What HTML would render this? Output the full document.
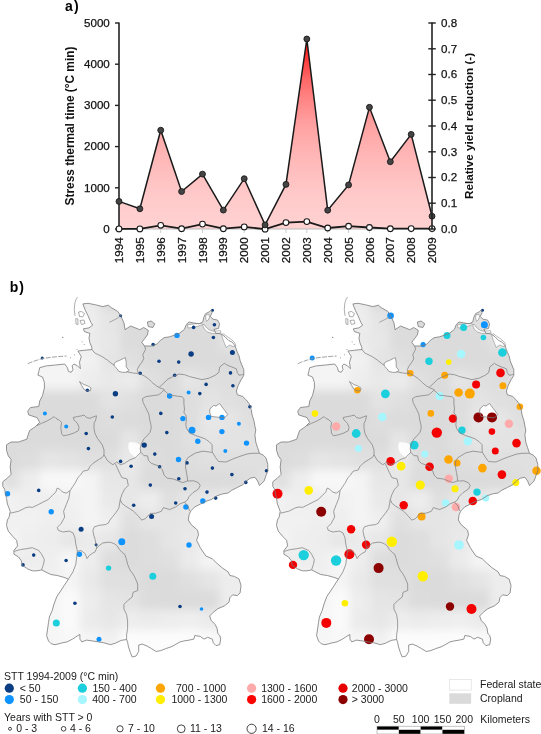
<!DOCTYPE html><html><head><meta charset="utf-8"><style>html,body{margin:0;padding:0;background:#fff;width:541px;height:734px;overflow:hidden}svg{display:block;will-change:transform}text{font-family:"Liberation Sans", sans-serif}</style></head><body>
<svg width="541" height="734" viewBox="0 0 541 734">
<defs>
<linearGradient id="rg" gradientUnits="userSpaceOnUse" x1="0" y1="39" x2="0" y2="229"><stop offset="0" stop-color="#ff0000"/><stop offset="0.05" stop-color="#ff1f1f"/><stop offset="0.1" stop-color="#ff3939"/><stop offset="0.2" stop-color="#ff6363"/><stop offset="0.3" stop-color="#ff8181"/><stop offset="0.45" stop-color="#ffa1a1"/><stop offset="0.6" stop-color="#ffb5b5"/><stop offset="0.8" stop-color="#ffc8c8"/><stop offset="1.0" stop-color="#ffd2d2"/></linearGradient>
<clipPath id="de"><path d="M82.9,303.9 L88.1,303.3 L95.5,304.8 L102.8,306.6 L108.4,305.2 L111.2,307.6 L117.6,311.3 L120.4,315.0 L124.1,323.3 L125.0,329.7 L130.6,326.0 L139.8,329.7 L143.7,327.5 L148.3,330.3 L147.4,334.9 L144.6,338.6 L141.8,342.3 L144.6,346.0 L151.1,346.0 L156.6,344.2 L160.3,340.5 L164.0,337.7 L169.6,336.8 L175.1,334.9 L179.7,333.1 L184.4,329.4 L186.2,324.7 L189.0,322.0 L193.6,322.9 L199.1,323.8 L202.8,322.0 L203.8,317.3 L205.6,313.7 L209.3,311.8 L211.2,310.0 L212.1,312.7 L210.2,316.4 L213.0,319.2 L217.6,320.1 L219.5,323.8 L218.6,328.4 L213.9,329.4 L215.8,333.1 L221.3,334.0 L225.0,336.8 L228.7,340.5 L232.4,342.3 L235.2,346.0 L236.1,348.8 L237.3,352.2 L239.1,355.9 L240.1,360.5 L241.9,365.1 L243.8,369.7 L243.8,375.3 L241.0,379.9 L238.2,385.5 L236.4,391.0 L237.3,394.7 L242.8,396.5 L246.5,400.2 L249.3,403.9 L251.2,409.5 L252.1,415.0 L253.9,420.6 L254.9,426.1 L255.8,430.0 L254.9,434.8 L255.8,442.2 L257.6,447.7 L259.5,453.3 L263.2,455.1 L266.0,457.9 L267.8,464.4 L267.8,470.8 L266.0,475.5 L264.1,481.0 L259.5,485.6 L257.6,481.0 L254.9,477.3 L250.2,478.2 L246.5,481.0 L242.8,484.7 L237.3,487.5 L231.8,490.2 L228.1,493.0 L222.5,493.9 L217.0,495.8 L211.4,499.5 L205.9,501.3 L200.3,504.1 L194.8,506.9 L191.1,510.6 L189.2,514.3 L188.3,520.0 L191.1,524.6 L197.6,530.2 L198.5,534.8 L196.6,540.3 L200.3,547.7 L205.9,556.0 L212.3,558.8 L217.0,563.4 L222.5,568.1 L228.1,571.8 L229.9,575.5 L234.5,576.4 L239.1,579.1 L241.0,585.5 L240.1,592.9 L237.3,595.7 L232.7,594.8 L229.9,597.6 L229.0,602.2 L224.4,605.9 L217.9,608.7 L213.3,612.3 L209.6,616.0 L211.4,620.7 L215.1,624.4 L217.0,628.1 L217.9,633.6 L219.7,635.5 L220.7,639.1 L219.7,644.7 L216.0,645.6 L213.3,642.8 L212.3,639.1 L207.7,637.3 L204.0,639.1 L200.3,636.4 L194.8,635.5 L193.9,639.1 L189.2,640.1 L183.7,641.0 L180.0,641.9 L174.7,645.0 L171.0,646.9 L165.5,648.7 L160.8,650.6 L156.2,651.5 L151.6,648.7 L147.0,646.0 L142.3,644.1 L138.7,645.0 L138.7,651.5 L135.9,656.1 L132.2,657.0 L130.3,652.4 L128.5,646.9 L127.6,642.3 L126.6,639.5 L121.1,640.4 L115.5,643.2 L110.4,644.7 L103.9,642.8 L98.4,641.9 L92.8,641.0 L86.4,640.1 L81.8,641.9 L79.9,639.1 L79.9,634.5 L78.1,635.5 L75.3,637.3 L72.5,639.1 L67.0,641.9 L62.3,642.8 L58.7,643.8 L55.0,644.7 L51.3,643.8 L48.5,641.0 L46.6,635.5 L47.6,629.0 L48.5,622.5 L49.4,617.0 L52.2,610.5 L54.0,604.0 L56.8,596.6 L60.5,591.1 L64.2,585.5 L68.4,579.1 L63.8,577.3 L57.3,575.5 L50.8,574.5 L47.1,572.7 L41.6,569.9 L37.0,570.8 L32.3,570.8 L27.7,569.0 L25.0,567.1 L22.2,565.3 L21.3,560.7 L18.5,557.0 L13.9,554.2 L13.9,550.5 L17.6,545.9 L16.6,540.3 L12.9,536.6 L8.3,531.1 L6.5,525.5 L7.4,520.0 L9.2,516.9 L10.2,511.3 L7.4,503.9 L6.5,498.4 L5.5,493.8 L4.6,489.1 L2.8,486.4 L2.8,481.8 L7.4,478.1 L11.1,474.4 L10.2,467.0 L11.1,459.6 L8.3,455.9 L6.5,450.3 L6.5,444.8 L11.1,442.0 L18.5,442.0 L26.8,439.2 L27.7,436.1 L29.6,430.6 L35.1,426.9 L39.7,422.3 L37.0,417.6 L28.7,414.9 L27.7,411.2 L30.5,407.5 L38.8,406.5 L39.7,401.0 L42.5,395.5 L44.4,388.0 L44.4,382.5 L42.5,377.0 L37.9,375.1 L38.8,371.4 L39.7,367.7 L46.2,365.9 L55.5,365.0 L64.7,364.0 L67.5,367.7 L68.4,371.4 L71.2,372.3 L73.0,369.6 L72.1,365.9 L73.9,364.0 L77.6,365.9 L80.4,368.7 L79.5,362.2 L81.3,356.6 L79.7,353.8 L77.9,351.0 L85.0,350.2 L92.0,349.5 L91.8,347.3 L89.9,342.7 L89.0,338.0 L89.9,333.4 L84.4,331.6 L83.4,328.8 L89.0,327.9 L92.7,325.1 L90.8,322.3 L88.1,315.9 L85.3,310.3 Z M147.4,322 L151.1,321 L154.8,323.8 L152.9,327.5 L148.3,326.6 Z"/></clipPath>
<filter id="bl" x="-20" y="270" width="320" height="420" filterUnits="userSpaceOnUse"><feGaussianBlur stdDeviation="5"/></filter><filter id="bl2"><feGaussianBlur stdDeviation="0.6"/></filter>
<g id="mbase"><g clip-path="url(#de)"><g filter="url(#bl)"><rect x="0" y="290" width="20" height="20" fill="#ebebeb"/><rect x="20" y="290" width="20" height="20" fill="#ebebeb"/><rect x="40" y="290" width="20" height="20" fill="#ebebeb"/><rect x="60" y="290" width="20" height="20" fill="#ebebeb"/><rect x="80" y="290" width="20" height="20" fill="#ebebeb"/><rect x="100" y="290" width="20" height="20" fill="#dbdbdb"/><rect x="120" y="290" width="20" height="20" fill="#dbdbdb"/><rect x="140" y="290" width="20" height="20" fill="#dbdbdb"/><rect x="160" y="290" width="20" height="20" fill="#dbdbdb"/><rect x="180" y="290" width="20" height="20" fill="#dbdbdb"/><rect x="200" y="290" width="20" height="20" fill="#e0e0e0"/><rect x="220" y="290" width="20" height="20" fill="#e5e5e5"/><rect x="240" y="290" width="20" height="20" fill="#e5e5e5"/><rect x="260" y="290" width="20" height="20" fill="#e5e5e5"/><rect x="0" y="310" width="20" height="20" fill="#f3f3f3"/><rect x="20" y="310" width="20" height="20" fill="#f2f2f2"/><rect x="40" y="310" width="20" height="20" fill="#f0f0f0"/><rect x="60" y="310" width="20" height="20" fill="#ededed"/><rect x="80" y="310" width="20" height="20" fill="#ededed"/><rect x="100" y="310" width="20" height="20" fill="#e5e5e5"/><rect x="120" y="310" width="20" height="20" fill="#dbdbdb"/><rect x="140" y="310" width="20" height="20" fill="#dbdbdb"/><rect x="160" y="310" width="20" height="20" fill="#dbdbdb"/><rect x="180" y="310" width="20" height="20" fill="#dbdbdb"/><rect x="200" y="310" width="20" height="20" fill="#e0e0e0"/><rect x="220" y="310" width="20" height="20" fill="#e5e5e5"/><rect x="240" y="310" width="20" height="20" fill="#e5e5e5"/><rect x="260" y="310" width="20" height="20" fill="#e5e5e5"/><rect x="0" y="330" width="20" height="20" fill="#f4f4f4"/><rect x="20" y="330" width="20" height="20" fill="#f4f4f4"/><rect x="40" y="330" width="20" height="20" fill="#f4f4f4"/><rect x="60" y="330" width="20" height="20" fill="#efefef"/><rect x="80" y="330" width="20" height="20" fill="#ebebeb"/><rect x="100" y="330" width="20" height="20" fill="#e7e7e7"/><rect x="120" y="330" width="20" height="20" fill="#dcdcdc"/><rect x="140" y="330" width="20" height="20" fill="#dbdbdb"/><rect x="160" y="330" width="20" height="20" fill="#dbdbdb"/><rect x="180" y="330" width="20" height="20" fill="#dbdbdb"/><rect x="200" y="330" width="20" height="20" fill="#dbdbdb"/><rect x="220" y="330" width="20" height="20" fill="#e5e5e5"/><rect x="240" y="330" width="20" height="20" fill="#e5e5e5"/><rect x="260" y="330" width="20" height="20" fill="#e5e5e5"/><rect x="0" y="350" width="20" height="20" fill="#f4f4f4"/><rect x="20" y="350" width="20" height="20" fill="#f4f4f4"/><rect x="40" y="350" width="20" height="20" fill="#f4f4f4"/><rect x="60" y="350" width="20" height="20" fill="#f4f4f4"/><rect x="80" y="350" width="20" height="20" fill="#f1f1f1"/><rect x="100" y="350" width="20" height="20" fill="#e5e5e5"/><rect x="120" y="350" width="20" height="20" fill="#e0e0e0"/><rect x="140" y="350" width="20" height="20" fill="#dbdbdb"/><rect x="160" y="350" width="20" height="20" fill="#dbdbdb"/><rect x="180" y="350" width="20" height="20" fill="#dbdbdb"/><rect x="200" y="350" width="20" height="20" fill="#dbdbdb"/><rect x="220" y="350" width="20" height="20" fill="#dbdbdb"/><rect x="240" y="350" width="20" height="20" fill="#dcdcdc"/><rect x="260" y="350" width="20" height="20" fill="#dcdcdc"/><rect x="0" y="370" width="20" height="20" fill="#f4f4f4"/><rect x="20" y="370" width="20" height="20" fill="#f4f4f4"/><rect x="40" y="370" width="20" height="20" fill="#f4f4f4"/><rect x="60" y="370" width="20" height="20" fill="#f4f4f4"/><rect x="80" y="370" width="20" height="20" fill="#ededed"/><rect x="100" y="370" width="20" height="20" fill="#e9e9e9"/><rect x="120" y="370" width="20" height="20" fill="#ebebeb"/><rect x="140" y="370" width="20" height="20" fill="#e0e0e0"/><rect x="160" y="370" width="20" height="20" fill="#dbdbdb"/><rect x="180" y="370" width="20" height="20" fill="#e5e5e5"/><rect x="200" y="370" width="20" height="20" fill="#e0e0e0"/><rect x="220" y="370" width="20" height="20" fill="#dedede"/><rect x="240" y="370" width="20" height="20" fill="#e0e0e0"/><rect x="260" y="370" width="20" height="20" fill="#e0e0e0"/><rect x="0" y="390" width="20" height="20" fill="#dcdcdc"/><rect x="20" y="390" width="20" height="20" fill="#dcdcdc"/><rect x="40" y="390" width="20" height="20" fill="#dbdbdb"/><rect x="60" y="390" width="20" height="20" fill="#dbdbdb"/><rect x="80" y="390" width="20" height="20" fill="#dbdbdb"/><rect x="100" y="390" width="20" height="20" fill="#e3e3e3"/><rect x="120" y="390" width="20" height="20" fill="#e0e0e0"/><rect x="140" y="390" width="20" height="20" fill="#dbdbdb"/><rect x="160" y="390" width="20" height="20" fill="#dbdbdb"/><rect x="180" y="390" width="20" height="20" fill="#dedede"/><rect x="200" y="390" width="20" height="20" fill="#e3e3e3"/><rect x="220" y="390" width="20" height="20" fill="#e0e0e0"/><rect x="240" y="390" width="20" height="20" fill="#dedede"/><rect x="260" y="390" width="20" height="20" fill="#dedede"/><rect x="0" y="410" width="20" height="20" fill="#dbdbdb"/><rect x="20" y="410" width="20" height="20" fill="#dbdbdb"/><rect x="40" y="410" width="20" height="20" fill="#dbdbdb"/><rect x="60" y="410" width="20" height="20" fill="#dbdbdb"/><rect x="80" y="410" width="20" height="20" fill="#dbdbdb"/><rect x="100" y="410" width="20" height="20" fill="#dedede"/><rect x="120" y="410" width="20" height="20" fill="#dcdcdc"/><rect x="140" y="410" width="20" height="20" fill="#dbdbdb"/><rect x="160" y="410" width="20" height="20" fill="#dbdbdb"/><rect x="180" y="410" width="20" height="20" fill="#dedede"/><rect x="200" y="410" width="20" height="20" fill="#e7e7e7"/><rect x="220" y="410" width="20" height="20" fill="#e5e5e5"/><rect x="240" y="410" width="20" height="20" fill="#e0e0e0"/><rect x="260" y="410" width="20" height="20" fill="#e0e0e0"/><rect x="0" y="430" width="20" height="20" fill="#dcdcdc"/><rect x="20" y="430" width="20" height="20" fill="#dbdbdb"/><rect x="40" y="430" width="20" height="20" fill="#dbdbdb"/><rect x="60" y="430" width="20" height="20" fill="#dbdbdb"/><rect x="80" y="430" width="20" height="20" fill="#dbdbdb"/><rect x="100" y="430" width="20" height="20" fill="#dbdbdb"/><rect x="120" y="430" width="20" height="20" fill="#e5e5e5"/><rect x="140" y="430" width="20" height="20" fill="#dbdbdb"/><rect x="160" y="430" width="20" height="20" fill="#dbdbdb"/><rect x="180" y="430" width="20" height="20" fill="#e0e0e0"/><rect x="200" y="430" width="20" height="20" fill="#e5e5e5"/><rect x="220" y="430" width="20" height="20" fill="#e3e3e3"/><rect x="240" y="430" width="20" height="20" fill="#e3e3e3"/><rect x="260" y="430" width="20" height="20" fill="#e2e2e2"/><rect x="0" y="450" width="20" height="20" fill="#dcdcdc"/><rect x="20" y="450" width="20" height="20" fill="#dedede"/><rect x="40" y="450" width="20" height="20" fill="#e5e5e5"/><rect x="60" y="450" width="20" height="20" fill="#e3e3e3"/><rect x="80" y="450" width="20" height="20" fill="#e0e0e0"/><rect x="100" y="450" width="20" height="20" fill="#e0e0e0"/><rect x="120" y="450" width="20" height="20" fill="#e9e9e9"/><rect x="140" y="450" width="20" height="20" fill="#dedede"/><rect x="160" y="450" width="20" height="20" fill="#dbdbdb"/><rect x="180" y="450" width="20" height="20" fill="#dedede"/><rect x="200" y="450" width="20" height="20" fill="#e0e0e0"/><rect x="220" y="450" width="20" height="20" fill="#e0e0e0"/><rect x="240" y="450" width="20" height="20" fill="#e0e0e0"/><rect x="260" y="450" width="20" height="20" fill="#e0e0e0"/><rect x="0" y="470" width="20" height="20" fill="#e0e0e0"/><rect x="20" y="470" width="20" height="20" fill="#ededed"/><rect x="40" y="470" width="20" height="20" fill="#f8f8f8"/><rect x="60" y="470" width="20" height="20" fill="#f8f8f8"/><rect x="80" y="470" width="20" height="20" fill="#f4f4f4"/><rect x="100" y="470" width="20" height="20" fill="#e7e7e7"/><rect x="120" y="470" width="20" height="20" fill="#e7e7e7"/><rect x="140" y="470" width="20" height="20" fill="#dcdcdc"/><rect x="160" y="470" width="20" height="20" fill="#dbdbdb"/><rect x="180" y="470" width="20" height="20" fill="#dbdbdb"/><rect x="200" y="470" width="20" height="20" fill="#dbdbdb"/><rect x="220" y="470" width="20" height="20" fill="#dcdcdc"/><rect x="240" y="470" width="20" height="20" fill="#dedede"/><rect x="260" y="470" width="20" height="20" fill="#e5e5e5"/><rect x="0" y="490" width="20" height="20" fill="#f1f1f1"/><rect x="20" y="490" width="20" height="20" fill="#efefef"/><rect x="40" y="490" width="20" height="20" fill="#efefef"/><rect x="60" y="490" width="20" height="20" fill="#f1f1f1"/><rect x="80" y="490" width="20" height="20" fill="#f4f4f4"/><rect x="100" y="490" width="20" height="20" fill="#e9e9e9"/><rect x="120" y="490" width="20" height="20" fill="#e7e7e7"/><rect x="140" y="490" width="20" height="20" fill="#ededed"/><rect x="160" y="490" width="20" height="20" fill="#e0e0e0"/><rect x="180" y="490" width="20" height="20" fill="#e6e6e6"/><rect x="200" y="490" width="20" height="20" fill="#e7e7e7"/><rect x="220" y="490" width="20" height="20" fill="#ebebeb"/><rect x="240" y="490" width="20" height="20" fill="#e5e5e5"/><rect x="260" y="490" width="20" height="20" fill="#e5e5e5"/><rect x="0" y="510" width="20" height="20" fill="#f1f1f1"/><rect x="20" y="510" width="20" height="20" fill="#f1f1f1"/><rect x="40" y="510" width="20" height="20" fill="#efefef"/><rect x="60" y="510" width="20" height="20" fill="#efefef"/><rect x="80" y="510" width="20" height="20" fill="#f4f4f4"/><rect x="100" y="510" width="20" height="20" fill="#efefef"/><rect x="120" y="510" width="20" height="20" fill="#e0e0e0"/><rect x="140" y="510" width="20" height="20" fill="#e5e5e5"/><rect x="160" y="510" width="20" height="20" fill="#e5e5e5"/><rect x="180" y="510" width="20" height="20" fill="#e7e7e7"/><rect x="200" y="510" width="20" height="20" fill="#e9e9e9"/><rect x="220" y="510" width="20" height="20" fill="#eaeaea"/><rect x="240" y="510" width="20" height="20" fill="#e7e7e7"/><rect x="260" y="510" width="20" height="20" fill="#e5e5e5"/><rect x="0" y="530" width="20" height="20" fill="#f4f4f4"/><rect x="20" y="530" width="20" height="20" fill="#efefef"/><rect x="40" y="530" width="20" height="20" fill="#ededed"/><rect x="60" y="530" width="20" height="20" fill="#e7e7e7"/><rect x="80" y="530" width="20" height="20" fill="#ebebeb"/><rect x="100" y="530" width="20" height="20" fill="#e7e7e7"/><rect x="120" y="530" width="20" height="20" fill="#dcdcdc"/><rect x="140" y="530" width="20" height="20" fill="#dedede"/><rect x="160" y="530" width="20" height="20" fill="#e5e5e5"/><rect x="180" y="530" width="20" height="20" fill="#e9e9e9"/><rect x="200" y="530" width="20" height="20" fill="#f1f1f1"/><rect x="220" y="530" width="20" height="20" fill="#f4f4f4"/><rect x="240" y="530" width="20" height="20" fill="#f5f5f5"/><rect x="260" y="530" width="20" height="20" fill="#f0f0f0"/><rect x="0" y="550" width="20" height="20" fill="#ededed"/><rect x="20" y="550" width="20" height="20" fill="#ededed"/><rect x="40" y="550" width="20" height="20" fill="#efefef"/><rect x="60" y="550" width="20" height="20" fill="#f6f6f6"/><rect x="80" y="550" width="20" height="20" fill="#ededed"/><rect x="100" y="550" width="20" height="20" fill="#dedede"/><rect x="120" y="550" width="20" height="20" fill="#dcdcdc"/><rect x="140" y="550" width="20" height="20" fill="#dedede"/><rect x="160" y="550" width="20" height="20" fill="#e0e0e0"/><rect x="180" y="550" width="20" height="20" fill="#ebebeb"/><rect x="200" y="550" width="20" height="20" fill="#f4f4f4"/><rect x="220" y="550" width="20" height="20" fill="#f6f6f6"/><rect x="240" y="550" width="20" height="20" fill="#f6f6f6"/><rect x="260" y="550" width="20" height="20" fill="#f6f6f6"/><rect x="0" y="570" width="20" height="20" fill="#f1f1f1"/><rect x="20" y="570" width="20" height="20" fill="#f6f6f6"/><rect x="40" y="570" width="20" height="20" fill="#f1f1f1"/><rect x="60" y="570" width="20" height="20" fill="#f4f4f4"/><rect x="80" y="570" width="20" height="20" fill="#e9e9e9"/><rect x="100" y="570" width="20" height="20" fill="#e0e0e0"/><rect x="120" y="570" width="20" height="20" fill="#e0e0e0"/><rect x="140" y="570" width="20" height="20" fill="#dbdbdb"/><rect x="160" y="570" width="20" height="20" fill="#dbdbdb"/><rect x="180" y="570" width="20" height="20" fill="#e0e0e0"/><rect x="200" y="570" width="20" height="20" fill="#e5e5e5"/><rect x="220" y="570" width="20" height="20" fill="#ededed"/><rect x="240" y="570" width="20" height="20" fill="#ededed"/><rect x="260" y="570" width="20" height="20" fill="#ededed"/><rect x="0" y="590" width="20" height="20" fill="#f3f3f3"/><rect x="20" y="590" width="20" height="20" fill="#f5f5f5"/><rect x="40" y="590" width="20" height="20" fill="#f4f4f4"/><rect x="60" y="590" width="20" height="20" fill="#fafafa"/><rect x="80" y="590" width="20" height="20" fill="#ededed"/><rect x="100" y="590" width="20" height="20" fill="#e5e5e5"/><rect x="120" y="590" width="20" height="20" fill="#e3e3e3"/><rect x="140" y="590" width="20" height="20" fill="#dcdcdc"/><rect x="160" y="590" width="20" height="20" fill="#dbdbdb"/><rect x="180" y="590" width="20" height="20" fill="#dbdbdb"/><rect x="200" y="590" width="20" height="20" fill="#dcdcdc"/><rect x="220" y="590" width="20" height="20" fill="#ededed"/><rect x="240" y="590" width="20" height="20" fill="#ededed"/><rect x="260" y="590" width="20" height="20" fill="#ededed"/><rect x="0" y="610" width="20" height="20" fill="#f6f6f6"/><rect x="20" y="610" width="20" height="20" fill="#f6f6f6"/><rect x="40" y="610" width="20" height="20" fill="#f6f6f6"/><rect x="60" y="610" width="20" height="20" fill="#fafafa"/><rect x="80" y="610" width="20" height="20" fill="#ebebeb"/><rect x="100" y="610" width="20" height="20" fill="#e7e7e7"/><rect x="120" y="610" width="20" height="20" fill="#ededed"/><rect x="140" y="610" width="20" height="20" fill="#ebebeb"/><rect x="160" y="610" width="20" height="20" fill="#ededed"/><rect x="180" y="610" width="20" height="20" fill="#efefef"/><rect x="200" y="610" width="20" height="20" fill="#ebebeb"/><rect x="220" y="610" width="20" height="20" fill="#efefef"/><rect x="240" y="610" width="20" height="20" fill="#efefef"/><rect x="260" y="610" width="20" height="20" fill="#efefef"/><rect x="0" y="630" width="20" height="20" fill="#f6f6f6"/><rect x="20" y="630" width="20" height="20" fill="#f6f6f6"/><rect x="40" y="630" width="20" height="20" fill="#f6f6f6"/><rect x="60" y="630" width="20" height="20" fill="#f8f8f8"/><rect x="80" y="630" width="20" height="20" fill="#f4f4f4"/><rect x="100" y="630" width="20" height="20" fill="#f1f1f1"/><rect x="120" y="630" width="20" height="20" fill="#fcfcfc"/><rect x="140" y="630" width="20" height="20" fill="#fcfcfc"/><rect x="160" y="630" width="20" height="20" fill="#fcfcfc"/><rect x="180" y="630" width="20" height="20" fill="#fcfcfc"/><rect x="200" y="630" width="20" height="20" fill="#fafafa"/><rect x="220" y="630" width="20" height="20" fill="#f5f5f5"/><rect x="240" y="630" width="20" height="20" fill="#f2f2f2"/><rect x="260" y="630" width="20" height="20" fill="#f1f1f1"/><rect x="0" y="650" width="20" height="20" fill="#f6f6f6"/><rect x="20" y="650" width="20" height="20" fill="#f6f6f6"/><rect x="40" y="650" width="20" height="20" fill="#f6f6f6"/><rect x="60" y="650" width="20" height="20" fill="#f8f8f8"/><rect x="80" y="650" width="20" height="20" fill="#f4f4f4"/><rect x="100" y="650" width="20" height="20" fill="#f7f7f7"/><rect x="120" y="650" width="20" height="20" fill="#fdfdfd"/><rect x="140" y="650" width="20" height="20" fill="#fdfdfd"/><rect x="160" y="650" width="20" height="20" fill="#fdfdfd"/><rect x="180" y="650" width="20" height="20" fill="#fdfdfd"/><rect x="200" y="650" width="20" height="20" fill="#fbfbfb"/><rect x="220" y="650" width="20" height="20" fill="#f8f8f8"/><rect x="240" y="650" width="20" height="20" fill="#f5f5f5"/><rect x="260" y="650" width="20" height="20" fill="#f3f3f3"/></g></g><path d="M187.5,324.8 L192,324.2 L197,323.7 L201.5,323.4 L202.5,324.6 L198,326.2 L192,327.6 L188,328 Z" fill="#fff" stroke="#8a8a8a" stroke-width="0.6"/><path d="M203.8,324 L206,327 L209,329.8 L213,331.2 L217,331 L220.5,330.6 L221,332.8 L216.5,333.6 L212,333.4 L207.5,332 L204.2,329 L202.8,325.5 Z" fill="#fff" stroke="#8a8a8a" stroke-width="0.6"/><path d="M206,314.8 L208.8,314.3 L209.6,317 L208.3,320 L206.6,321.3 L205.6,318 Z" fill="#fff" stroke="#8a8a8a" stroke-width="0.6"/><path d="M221.5,334.6 L223.4,333.8 L226.6,336.2 L230.5,338.8 L234.2,342 L235.6,344.5 L235.3,346 L233.1,346.6 L229.9,345 L227.9,346.2 L226.2,347.6 L224.5,343.5 L222.8,339 Z" fill="#fff" stroke="#8a8a8a" stroke-width="0.6"/><path d="M114.2,363.1 L117.0,361.3 L119.7,360.3 L123.4,358.5 L125.3,357.6 L126.2,362.2 L126.2,366.8 L129.0,370.5 L126.2,372.3 L122.5,372.3 L118.8,371.4 L117.0,368.7 L114.2,365.9 Z" fill="#fff"/><path d="M210.0,408.7 L213.5,405.5 L216.0,406.0 L219.6,403.5 L221.4,406.1 L225.1,410.9 L227.7,414.6 L224.4,417.9 L217.7,417.2 L211.1,416.4 L209.6,412.0 Z" fill="#fff"/><path d="M79.5,381.6 L83.7,384.4 L88.3,386.2 L91.1,388.1 L90.2,390.8 L86.5,390.8 L83.7,389.0 Z" fill="#fff"/><path d="M129.8,442.0 L136.0,442.7 L140.2,444.8 L140.9,448.3 L139.5,453.8 L137.4,457.3 L134.0,456.6 L129.8,452.4 L128.4,448.3 L128.4,444.1 Z" fill="#fff" opacity="0.92" filter="url(#bl2)"/></g>
<g id="mline"><path d="M82.9,303.9 L88.1,303.3 L95.5,304.8 L102.8,306.6 L108.4,305.2 L111.2,307.6 L117.6,311.3 L120.4,315.0 L124.1,323.3 L125.0,329.7 L130.6,326.0 L139.8,329.7 L143.7,327.5 L148.3,330.3 L147.4,334.9 L144.6,338.6 L141.8,342.3 L144.6,346.0 L151.1,346.0 L156.6,344.2 L160.3,340.5 L164.0,337.7 L169.6,336.8 L175.1,334.9 L179.7,333.1 L184.4,329.4 L186.2,324.7 L189.0,322.0 L193.6,322.9 L199.1,323.8 L202.8,322.0 L203.8,317.3 L205.6,313.7 L209.3,311.8 L211.2,310.0 L212.1,312.7 L210.2,316.4 L213.0,319.2 L217.6,320.1 L219.5,323.8 L218.6,328.4 L213.9,329.4 L215.8,333.1 L221.3,334.0 L225.0,336.8 L228.7,340.5 L232.4,342.3 L235.2,346.0 L236.1,348.8 L237.3,352.2 L239.1,355.9 L240.1,360.5 L241.9,365.1 L243.8,369.7 L243.8,375.3 L241.0,379.9 L238.2,385.5 L236.4,391.0 L237.3,394.7 L242.8,396.5 L246.5,400.2 L249.3,403.9 L251.2,409.5 L252.1,415.0 L253.9,420.6 L254.9,426.1 L255.8,430.0 L254.9,434.8 L255.8,442.2 L257.6,447.7 L259.5,453.3 L263.2,455.1 L266.0,457.9 L267.8,464.4 L267.8,470.8 L266.0,475.5 L264.1,481.0 L259.5,485.6 L257.6,481.0 L254.9,477.3 L250.2,478.2 L246.5,481.0 L242.8,484.7 L237.3,487.5 L231.8,490.2 L228.1,493.0 L222.5,493.9 L217.0,495.8 L211.4,499.5 L205.9,501.3 L200.3,504.1 L194.8,506.9 L191.1,510.6 L189.2,514.3 L188.3,520.0 L191.1,524.6 L197.6,530.2 L198.5,534.8 L196.6,540.3 L200.3,547.7 L205.9,556.0 L212.3,558.8 L217.0,563.4 L222.5,568.1 L228.1,571.8 L229.9,575.5 L234.5,576.4 L239.1,579.1 L241.0,585.5 L240.1,592.9 L237.3,595.7 L232.7,594.8 L229.9,597.6 L229.0,602.2 L224.4,605.9 L217.9,608.7 L213.3,612.3 L209.6,616.0 L211.4,620.7 L215.1,624.4 L217.0,628.1 L217.9,633.6 L219.7,635.5 L220.7,639.1 L219.7,644.7 L216.0,645.6 L213.3,642.8 L212.3,639.1 L207.7,637.3 L204.0,639.1 L200.3,636.4 L194.8,635.5 L193.9,639.1 L189.2,640.1 L183.7,641.0 L180.0,641.9 L174.7,645.0 L171.0,646.9 L165.5,648.7 L160.8,650.6 L156.2,651.5 L151.6,648.7 L147.0,646.0 L142.3,644.1 L138.7,645.0 L138.7,651.5 L135.9,656.1 L132.2,657.0 L130.3,652.4 L128.5,646.9 L127.6,642.3 L126.6,639.5 L121.1,640.4 L115.5,643.2 L110.4,644.7 L103.9,642.8 L98.4,641.9 L92.8,641.0 L86.4,640.1 L81.8,641.9 L79.9,639.1 L79.9,634.5 L78.1,635.5 L75.3,637.3 L72.5,639.1 L67.0,641.9 L62.3,642.8 L58.7,643.8 L55.0,644.7 L51.3,643.8 L48.5,641.0 L46.6,635.5 L47.6,629.0 L48.5,622.5 L49.4,617.0 L52.2,610.5 L54.0,604.0 L56.8,596.6 L60.5,591.1 L64.2,585.5 L68.4,579.1 L63.8,577.3 L57.3,575.5 L50.8,574.5 L47.1,572.7 L41.6,569.9 L37.0,570.8 L32.3,570.8 L27.7,569.0 L25.0,567.1 L22.2,565.3 L21.3,560.7 L18.5,557.0 L13.9,554.2 L13.9,550.5 L17.6,545.9 L16.6,540.3 L12.9,536.6 L8.3,531.1 L6.5,525.5 L7.4,520.0 L9.2,516.9 L10.2,511.3 L7.4,503.9 L6.5,498.4 L5.5,493.8 L4.6,489.1 L2.8,486.4 L2.8,481.8 L7.4,478.1 L11.1,474.4 L10.2,467.0 L11.1,459.6 L8.3,455.9 L6.5,450.3 L6.5,444.8 L11.1,442.0 L18.5,442.0 L26.8,439.2 L27.7,436.1 L29.6,430.6 L35.1,426.9 L39.7,422.3 L37.0,417.6 L28.7,414.9 L27.7,411.2 L30.5,407.5 L38.8,406.5 L39.7,401.0 L42.5,395.5 L44.4,388.0 L44.4,382.5 L42.5,377.0 L37.9,375.1 L38.8,371.4 L39.7,367.7 L46.2,365.9 L55.5,365.0 L64.7,364.0 L67.5,367.7 L68.4,371.4 L71.2,372.3 L73.0,369.6 L72.1,365.9 L73.9,364.0 L77.6,365.9 L80.4,368.7 L79.5,362.2 L81.3,356.6 L79.7,353.8 L77.9,351.0 L85.0,350.2 L92.0,349.5 L91.8,347.3 L89.9,342.7 L89.0,338.0 L89.9,333.4 L84.4,331.6 L83.4,328.8 L89.0,327.9 L92.7,325.1 L90.8,322.3 L88.1,315.9 L85.3,310.3 Z M147.4,322 L151.1,321 L154.8,323.8 L152.9,327.5 L148.3,326.6 Z" fill="none" stroke="#7a7a7a" stroke-width="0.8"/><path d="M92.0,349.5 L94.8,353.0 L102.2,356.6 L107.7,360.3 L112.3,364.0 L114.2,365.0 M126.5,371.5 L129.0,372.3 L133.6,373.1 L137.9,373.4 L139.9,373.8 L144.4,376.0 L148.3,378.6 L152.2,382.5 L156.1,385.7 L159.3,387.6 L162.5,388.9 L164.5,389.6 M144.6,346.0 L145.6,349.2 L142.8,354.8 L143.8,358.5 L141.9,362.2 L139.1,365.9 L137.3,369.6 L138.5,373.4 M159.3,387.2 L163.8,383.1 L167.7,379.2 L171.6,377.3 L175.5,375.4 L179.3,374.1 L184.5,374.7 L189.7,376.6 L195.0,377.9 L202.0,379.6 L209.0,378.2 L215.1,375.3 L218.8,372.5 L219.7,367.0 L224.4,363.3 L227.1,365.1 L231.8,367.0 L236.4,368.8 L237.3,372.5 L239.1,375.3 L243.8,374.4 M163.8,390.2 L166.4,392.2 L169.6,395.4 L172.9,395.4 L176.8,396.1 L181.9,396.7 L183.9,398.6 L183.9,403.8 L184.5,409.0 L183.9,412.9 L185.8,414.8 L186.5,419.3 L185.8,424.5 L186.5,428.4 L189.5,432.8 L195.5,435.5 L201.0,437.3 L205.6,439.1 L209.3,441.9 L212.1,444.7 L212.1,450.2 L212.5,452.5 M163.8,390.2 L161.2,392.8 L158.6,394.8 L154.8,395.4 L149.6,396.1 L145.7,396.7 L142.5,398.6 L143.1,402.5 L145.1,406.4 L147.0,410.3 L148.9,414.2 L149.6,419.3 L150.9,424.5 L151.2,428.4 L150.0,432.3 L147.4,435.5 L143.9,438.8 L141.3,444.0 L140.2,448.5 L140.8,452.2 M140.8,452.2 L143.9,455.6 L147.6,455.9 L148.5,460.5 L151.3,463.3 L158.7,466.0 L162.3,469.7 L164.2,475.3 L167.0,478.1 L173.4,479.0 L178.1,480.8 L182.7,482.6 L187.5,481.0 M212.5,452.5 L210.2,452.1 L202.8,451.2 L195.5,453.0 L188.0,457.6 L185.5,461.4 L185.5,467.0 L186.4,472.5 L187.3,477.1 L187.5,481.0 M212.5,452.5 L215.5,457.5 L218.5,461.5 L226.0,462.0 L234.0,458.5 L241.0,456.0 L247.0,454.0 L252.0,453.3 L259.5,453.3 M187.5,481.0 L193.8,480.8 L198.4,482.7 L200.2,485.5 L198.4,489.1 L192.8,492.8 L189.1,496.5 L187.3,500.2 L184.5,502.1 L188.0,506.0 L189.5,511.0 M120.3,499.5 L121.8,503.1 L125.5,506.1 L129.1,508.3 L133.6,511.3 L138.0,515.7 L141.7,520.1 L145.4,518.7 L150.0,513.5 L155.9,513.2 L161.4,511.3 L163.3,507.6 L169.7,509.5 L176.2,506.7 L179.9,503.9 L184.5,502.1 M140.8,452.2 L135.5,457.7 L130.0,459.8 L124.5,463.4 L120.6,464.7 L116.7,462.1 L112.8,464.7 L107.6,460.8 L104.0,454.9 M115.5,464.0 L119.3,472.5 L121.9,477.6 L127.0,478.9 L128.3,485.4 L124.5,489.3 L121.9,494.5 L120.3,499.5 M36.6,425.8 L41.6,423.3 L47.4,420.8 L51.6,418.3 L54.1,416.6 L55.8,418.3 L59.1,420.0 L61.6,422.5 L60.8,427.4 L61.6,433.3 L63.3,435.8 L68.2,434.9 L73.2,433.3 L78.2,430.8 L79.1,427.4 L77.4,423.3 L74.1,420.0 L73.2,417.5 L77.4,416.6 L81.6,415.8 L84.0,415.0 L86.5,417.5 L89.9,418.3 L94.0,416.6 L96.5,415.8 L95.7,420.0 L94.0,423.3 L94.0,428.3 L94.9,433.3 L97.4,438.3 L99.9,441.6 L102.3,444.9 L104.0,449.9 L104.0,454.9 M104.0,454.9 L102.3,457.4 L98.2,459.9 L93.2,463.2 L89.9,466.5 L88.2,470.0 L83.1,471.2 L80.5,475.1 L77.9,477.6 L75.3,482.8 L72.7,486.7 L70.1,490.6 L66.2,493.2 L62.3,491.9 L59.8,489.3 L57.2,488.0 L55.9,491.9 L52.0,495.8 L48.1,499.6 L42.9,502.2 L37.8,504.8 L32.6,507.4 L29.0,507.0 L25.9,507.6 L18.5,511.3 L10.2,513.2 M70.1,490.6 L68.8,498.3 L66.2,504.8 L63.6,511.3 L64.7,517.0 L61.0,523.7 L57.3,527.4 L58.2,530.2 L62.8,532.0 L69.3,531.1 L73.0,532.9 L74.9,537.6 L75.8,544.0 L77.4,551.2 M77.4,551.2 L76.7,557.0 L75.8,564.4 L73.0,571.8 L68.4,579.1 M120.3,499.5 L118.8,508.3 L115.8,512.7 L112.9,516.4 L109.9,520.1 L108.4,523.1 L105.5,524.6 L99.6,525.3 L94.4,526.8 L92.9,530.5 L93.7,534.9 L95.1,539.4 L95.9,543.8 L96.6,548.2 L95.1,551.9 L92.2,553.4 L89.2,555.6 L87.0,558.6 L86.3,556.4 L84.8,553.4 L81.1,550.5 L77.4,551.2 M96.6,548.2 L99.6,545.3 L102.5,543.1 L107.0,542.3 L110.7,542.3 L114.4,543.8 L117.3,546.0 L119.5,549.7 L122.5,552.7 L124.7,554.2 L126.2,558.6 L127.7,564.5 L130.0,570.0 L133.0,574.0 L135.0,577.6 L137.7,584.0 L137.7,590.5 L133.1,592.3 L132.2,597.0 L127.6,600.7 L123.9,604.4 L123.9,609.0 L126.6,614.5 L127.6,621.0 L127.6,628.4 L126.6,634.9 L126.6,639.5 M13.9,551.4 L20.3,549.6 L26.8,548.7 L32.3,547.7 L38.8,550.5 L41.6,554.2 L44.4,559.7 L43.4,564.4 L41.6,569.9 M114.2,363.1 L117.0,361.3 L119.7,360.3 L123.4,358.5 L125.3,357.6 L126.2,362.2 L126.2,366.8 L129.0,370.5 L126.2,372.3 L122.5,372.3 L118.8,371.4 L117.0,368.7 L114.2,365.9 Z M210.0,408.7 L213.5,405.5 L216.0,406.0 L219.6,403.5 L221.4,406.1 L225.1,410.9 L227.7,414.6 L224.4,417.9 L217.7,417.2 L211.1,416.4 L209.6,412.0 Z M79.5,381.6 L83.7,384.4 L88.3,386.2 L91.1,388.1 L90.2,390.8 L86.5,390.8 L83.7,389.0 Z" fill="none" stroke="#808080" stroke-width="0.75" stroke-linejoin="round"/><path d="M77.5,297.2 L76,299.5 L74.9,302.9 L74.3,309.4 L75.1,315.9 M78.5,312 L81.5,311.5 L84.5,313.5 L83,316.8 L79.5,316.5 Z M75.8,318.5 L77.8,319 L78,324.5 L76,324 Z M80,320.5 L84,320 L85,323.5 L81.5,324.5 Z M109.3,322.3 L113,320.5 L117,318.5 L120.4,315.9" fill="none" stroke="#8a8a8a" stroke-width="0.7"/><path d="M27.8,363.8 L30.4,362.5 L36,360.5 L42,358.6 L51,357.3 L58,356.6 L66.6,356" fill="none" stroke="#8a8a8a" stroke-width="0.8" stroke-dasharray="5 1.3"/><g fill="#8a8a8a"><circle cx="62.7" cy="337.4" r="0.7"/><circle cx="82.1" cy="341.8" r="0.5"/><circle cx="84.2" cy="344.4" r="0.5"/><circle cx="77" cy="349.5" r="0.5"/><circle cx="74.4" cy="354.7" r="0.5"/><circle cx="70.5" cy="357.8" r="0.5"/></g></g>
</defs>
<text x="64.9" y="10.9" font-size="14" font-weight="bold" letter-spacing="1.2">a)</text>
<polygon points="119.00,229 119.00,201.40 139.87,208.80 160.74,130.20 181.61,191.50 202.48,174.10 223.35,210.10 244.22,178.70 265.09,224.90 285.96,184.40 306.83,39.00 327.70,210.20 348.57,184.90 369.44,107.30 390.31,161.70 411.18,134.40 432.05,216.20 432.05,229" fill="url(#rg)"/>
<line x1="119" y1="229" x2="432" y2="229" stroke="#bbb" stroke-width="1"/>
<line x1="119.00" y1="229" x2="119.00" y2="233" stroke="#ccc" stroke-width="1"/>
<line x1="139.87" y1="229" x2="139.87" y2="233" stroke="#ccc" stroke-width="1"/>
<line x1="160.74" y1="229" x2="160.74" y2="233" stroke="#ccc" stroke-width="1"/>
<line x1="181.61" y1="229" x2="181.61" y2="233" stroke="#ccc" stroke-width="1"/>
<line x1="202.48" y1="229" x2="202.48" y2="233" stroke="#ccc" stroke-width="1"/>
<line x1="223.35" y1="229" x2="223.35" y2="233" stroke="#ccc" stroke-width="1"/>
<line x1="244.22" y1="229" x2="244.22" y2="233" stroke="#ccc" stroke-width="1"/>
<line x1="265.09" y1="229" x2="265.09" y2="233" stroke="#ccc" stroke-width="1"/>
<line x1="285.96" y1="229" x2="285.96" y2="233" stroke="#ccc" stroke-width="1"/>
<line x1="306.83" y1="229" x2="306.83" y2="233" stroke="#ccc" stroke-width="1"/>
<line x1="327.70" y1="229" x2="327.70" y2="233" stroke="#ccc" stroke-width="1"/>
<line x1="348.57" y1="229" x2="348.57" y2="233" stroke="#ccc" stroke-width="1"/>
<line x1="369.44" y1="229" x2="369.44" y2="233" stroke="#ccc" stroke-width="1"/>
<line x1="390.31" y1="229" x2="390.31" y2="233" stroke="#ccc" stroke-width="1"/>
<line x1="411.18" y1="229" x2="411.18" y2="233" stroke="#ccc" stroke-width="1"/>
<line x1="432.05" y1="229" x2="432.05" y2="233" stroke="#ccc" stroke-width="1"/>
<line x1="119" y1="22.5" x2="119" y2="229.5" stroke="#222" stroke-width="1.6"/>
<line x1="115" y1="229.0" x2="119" y2="229.0" stroke="#222" stroke-width="1.4"/>
<text x="109.8" y="232.7" font-size="11.6" text-anchor="end" fill="#111" stroke="#111" stroke-width="0.25">0</text>
<line x1="115" y1="187.8" x2="119" y2="187.8" stroke="#222" stroke-width="1.4"/>
<text x="109.8" y="191.5" font-size="11.6" text-anchor="end" fill="#111" stroke="#111" stroke-width="0.25">1000</text>
<line x1="115" y1="146.6" x2="119" y2="146.6" stroke="#222" stroke-width="1.4"/>
<text x="109.8" y="150.3" font-size="11.6" text-anchor="end" fill="#111" stroke="#111" stroke-width="0.25">2000</text>
<line x1="115" y1="105.4" x2="119" y2="105.4" stroke="#222" stroke-width="1.4"/>
<text x="109.8" y="109.1" font-size="11.6" text-anchor="end" fill="#111" stroke="#111" stroke-width="0.25">3000</text>
<line x1="115" y1="64.2" x2="119" y2="64.2" stroke="#222" stroke-width="1.4"/>
<text x="109.8" y="67.9" font-size="11.6" text-anchor="end" fill="#111" stroke="#111" stroke-width="0.25">4000</text>
<line x1="115" y1="23.0" x2="119" y2="23.0" stroke="#222" stroke-width="1.4"/>
<text x="109.8" y="26.7" font-size="11.6" text-anchor="end" fill="#111" stroke="#111" stroke-width="0.25">5000</text>
<text transform="translate(73.5,126) rotate(-90)" font-size="11.85" font-weight="bold" text-anchor="middle" fill="#111">Stress thermal time (°C min)</text>
<text transform="translate(472.8,126) rotate(-90)" font-size="11.7" font-weight="bold" text-anchor="middle" fill="#111">Relative yield reduction (-)</text>
<text transform="translate(123.10,237.3) rotate(-90)" font-size="11.7" text-anchor="end" fill="#111" stroke="#111" stroke-width="0.25">1994</text>
<text transform="translate(143.97,237.3) rotate(-90)" font-size="11.7" text-anchor="end" fill="#111" stroke="#111" stroke-width="0.25">1995</text>
<text transform="translate(164.84,237.3) rotate(-90)" font-size="11.7" text-anchor="end" fill="#111" stroke="#111" stroke-width="0.25">1996</text>
<text transform="translate(185.71,237.3) rotate(-90)" font-size="11.7" text-anchor="end" fill="#111" stroke="#111" stroke-width="0.25">1997</text>
<text transform="translate(206.58,237.3) rotate(-90)" font-size="11.7" text-anchor="end" fill="#111" stroke="#111" stroke-width="0.25">1998</text>
<text transform="translate(227.45,237.3) rotate(-90)" font-size="11.7" text-anchor="end" fill="#111" stroke="#111" stroke-width="0.25">1999</text>
<text transform="translate(248.32,237.3) rotate(-90)" font-size="11.7" text-anchor="end" fill="#111" stroke="#111" stroke-width="0.25">2000</text>
<text transform="translate(269.19,237.3) rotate(-90)" font-size="11.7" text-anchor="end" fill="#111" stroke="#111" stroke-width="0.25">2001</text>
<text transform="translate(290.06,237.3) rotate(-90)" font-size="11.7" text-anchor="end" fill="#111" stroke="#111" stroke-width="0.25">2002</text>
<text transform="translate(310.93,237.3) rotate(-90)" font-size="11.7" text-anchor="end" fill="#111" stroke="#111" stroke-width="0.25">2003</text>
<text transform="translate(331.80,237.3) rotate(-90)" font-size="11.7" text-anchor="end" fill="#111" stroke="#111" stroke-width="0.25">2004</text>
<text transform="translate(352.67,237.3) rotate(-90)" font-size="11.7" text-anchor="end" fill="#111" stroke="#111" stroke-width="0.25">2005</text>
<text transform="translate(373.54,237.3) rotate(-90)" font-size="11.7" text-anchor="end" fill="#111" stroke="#111" stroke-width="0.25">2006</text>
<text transform="translate(394.41,237.3) rotate(-90)" font-size="11.7" text-anchor="end" fill="#111" stroke="#111" stroke-width="0.25">2007</text>
<text transform="translate(415.28,237.3) rotate(-90)" font-size="11.7" text-anchor="end" fill="#111" stroke="#111" stroke-width="0.25">2008</text>
<text transform="translate(436.15,237.3) rotate(-90)" font-size="11.7" text-anchor="end" fill="#111" stroke="#111" stroke-width="0.25">2009</text>
<polyline points="119.00,228.90 139.87,228.90 160.74,225.30 181.61,228.70 202.48,224.10 223.35,228.70 244.22,226.90 265.09,229.20 285.96,222.60 306.83,221.60 327.70,228.00 348.57,226.20 369.44,227.50 390.31,228.70 411.18,228.60 432.05,228.60" fill="none" stroke="#1a1a1a" stroke-width="1.8"/>
<circle cx="119.00" cy="228.90" r="2.85" fill="#fff" stroke="#1a1a1a" stroke-width="1.1"/>
<circle cx="139.87" cy="228.90" r="2.85" fill="#fff" stroke="#1a1a1a" stroke-width="1.1"/>
<circle cx="160.74" cy="225.30" r="2.85" fill="#fff" stroke="#1a1a1a" stroke-width="1.1"/>
<circle cx="181.61" cy="228.70" r="2.85" fill="#fff" stroke="#1a1a1a" stroke-width="1.1"/>
<circle cx="202.48" cy="224.10" r="2.85" fill="#fff" stroke="#1a1a1a" stroke-width="1.1"/>
<circle cx="223.35" cy="228.70" r="2.85" fill="#fff" stroke="#1a1a1a" stroke-width="1.1"/>
<circle cx="244.22" cy="226.90" r="2.85" fill="#fff" stroke="#1a1a1a" stroke-width="1.1"/>
<circle cx="265.09" cy="229.20" r="2.85" fill="#fff" stroke="#1a1a1a" stroke-width="1.1"/>
<circle cx="285.96" cy="222.60" r="2.85" fill="#fff" stroke="#1a1a1a" stroke-width="1.1"/>
<circle cx="306.83" cy="221.60" r="2.85" fill="#fff" stroke="#1a1a1a" stroke-width="1.1"/>
<circle cx="327.70" cy="228.00" r="2.85" fill="#fff" stroke="#1a1a1a" stroke-width="1.1"/>
<circle cx="348.57" cy="226.20" r="2.85" fill="#fff" stroke="#1a1a1a" stroke-width="1.1"/>
<circle cx="369.44" cy="227.50" r="2.85" fill="#fff" stroke="#1a1a1a" stroke-width="1.1"/>
<circle cx="390.31" cy="228.70" r="2.85" fill="#fff" stroke="#1a1a1a" stroke-width="1.1"/>
<circle cx="411.18" cy="228.60" r="2.85" fill="#fff" stroke="#1a1a1a" stroke-width="1.1"/>
<circle cx="432.05" cy="228.60" r="2.85" fill="#fff" stroke="#1a1a1a" stroke-width="1.1"/>
<polyline points="119.00,201.40 139.87,208.80 160.74,130.20 181.61,191.50 202.48,174.10 223.35,210.10 244.22,178.70 265.09,224.90 285.96,184.40 306.83,39.00 327.70,210.20 348.57,184.90 369.44,107.30 390.31,161.70 411.18,134.40 432.05,216.20" fill="none" stroke="#1a1a1a" stroke-width="1.5"/>
<circle cx="119.00" cy="201.40" r="2.95" fill="#444" stroke="#1a1a1a" stroke-width="0.9"/>
<circle cx="139.87" cy="208.80" r="2.95" fill="#444" stroke="#1a1a1a" stroke-width="0.9"/>
<circle cx="160.74" cy="130.20" r="2.95" fill="#444" stroke="#1a1a1a" stroke-width="0.9"/>
<circle cx="181.61" cy="191.50" r="2.95" fill="#444" stroke="#1a1a1a" stroke-width="0.9"/>
<circle cx="202.48" cy="174.10" r="2.95" fill="#444" stroke="#1a1a1a" stroke-width="0.9"/>
<circle cx="223.35" cy="210.10" r="2.95" fill="#444" stroke="#1a1a1a" stroke-width="0.9"/>
<circle cx="244.22" cy="178.70" r="2.95" fill="#444" stroke="#1a1a1a" stroke-width="0.9"/>
<circle cx="265.09" cy="224.90" r="2.95" fill="#444" stroke="#1a1a1a" stroke-width="0.9"/>
<circle cx="285.96" cy="184.40" r="2.95" fill="#444" stroke="#1a1a1a" stroke-width="0.9"/>
<circle cx="306.83" cy="39.00" r="2.95" fill="#444" stroke="#1a1a1a" stroke-width="0.9"/>
<circle cx="327.70" cy="210.20" r="2.95" fill="#444" stroke="#1a1a1a" stroke-width="0.9"/>
<circle cx="348.57" cy="184.90" r="2.95" fill="#444" stroke="#1a1a1a" stroke-width="0.9"/>
<circle cx="369.44" cy="107.30" r="2.95" fill="#444" stroke="#1a1a1a" stroke-width="0.9"/>
<circle cx="390.31" cy="161.70" r="2.95" fill="#444" stroke="#1a1a1a" stroke-width="0.9"/>
<circle cx="411.18" cy="134.40" r="2.95" fill="#444" stroke="#1a1a1a" stroke-width="0.9"/>
<circle cx="432.05" cy="216.20" r="2.95" fill="#444" stroke="#1a1a1a" stroke-width="0.9"/>
<line x1="432" y1="22.5" x2="432" y2="229.5" stroke="#222" stroke-width="1.6"/>
<line x1="428.3" y1="229.0" x2="435.8" y2="229.0" stroke="#222" stroke-width="1.4"/>
<text x="441" y="232.8" font-size="11.6" fill="#111" stroke="#111" stroke-width="0.25">0.0</text>
<line x1="428.3" y1="203.2" x2="435.8" y2="203.2" stroke="#222" stroke-width="1.4"/>
<text x="441" y="207.1" font-size="11.6" fill="#111" stroke="#111" stroke-width="0.25">0.1</text>
<line x1="428.3" y1="177.5" x2="435.8" y2="177.5" stroke="#222" stroke-width="1.4"/>
<text x="441" y="181.3" font-size="11.6" fill="#111" stroke="#111" stroke-width="0.25">0.2</text>
<line x1="428.3" y1="151.8" x2="435.8" y2="151.8" stroke="#222" stroke-width="1.4"/>
<text x="441" y="155.6" font-size="11.6" fill="#111" stroke="#111" stroke-width="0.25">0.3</text>
<line x1="428.3" y1="126.0" x2="435.8" y2="126.0" stroke="#222" stroke-width="1.4"/>
<text x="441" y="129.8" font-size="11.6" fill="#111" stroke="#111" stroke-width="0.25">0.4</text>
<line x1="428.3" y1="100.2" x2="435.8" y2="100.2" stroke="#222" stroke-width="1.4"/>
<text x="441" y="104.0" font-size="11.6" fill="#111" stroke="#111" stroke-width="0.25">0.5</text>
<line x1="428.3" y1="74.5" x2="435.8" y2="74.5" stroke="#222" stroke-width="1.4"/>
<text x="441" y="78.3" font-size="11.6" fill="#111" stroke="#111" stroke-width="0.25">0.6</text>
<line x1="428.3" y1="48.8" x2="435.8" y2="48.8" stroke="#222" stroke-width="1.4"/>
<text x="441" y="52.5" font-size="11.6" fill="#111" stroke="#111" stroke-width="0.25">0.7</text>
<line x1="428.3" y1="23.0" x2="435.8" y2="23.0" stroke="#222" stroke-width="1.4"/>
<text x="441" y="26.8" font-size="11.6" fill="#111" stroke="#111" stroke-width="0.25">0.8</text>
<text x="9.8" y="292" font-size="14" font-weight="bold" letter-spacing="0.9">b)</text>
<use href="#mbase"/><use href="#mbase" x="270"/>
<circle cx="120.6" cy="315.8" r="1.5" fill="#0a3d82"/>
<circle cx="42.2" cy="358.1" r="1.5" fill="#0a3d82"/>
<circle cx="87.4" cy="390.2" r="1.8" fill="#0a3d82"/>
<circle cx="115.4" cy="393.8" r="2.7" fill="#0a3d82"/>
<circle cx="44.9" cy="413.6" r="2.0" fill="#0f93ff"/>
<circle cx="66.2" cy="426.5" r="2.0" fill="#0f93ff"/>
<circle cx="112.3" cy="417.0" r="1.8" fill="#0a3d82"/>
<circle cx="86.2" cy="433.5" r="1.8" fill="#0a3d82"/>
<circle cx="88.4" cy="448.6" r="1.8" fill="#0a3d82"/>
<circle cx="120.6" cy="461.4" r="1.8" fill="#0a3d82"/>
<circle cx="131.1" cy="466.2" r="1.8" fill="#0a3d82"/>
<circle cx="7.5" cy="493.7" r="2.7" fill="#0f93ff"/>
<circle cx="38.7" cy="490.4" r="1.8" fill="#0a3d82"/>
<circle cx="51.2" cy="511.7" r="2.7" fill="#0f93ff"/>
<circle cx="133.7" cy="505.2" r="1.8" fill="#0a3d82"/>
<circle cx="81.1" cy="529.2" r="2.5" fill="#0a3d82"/>
<circle cx="121.8" cy="541.7" r="3.5" fill="#0f93ff"/>
<circle cx="96.1" cy="544.7" r="1.5" fill="#0a3d82"/>
<circle cx="33.7" cy="555.1" r="1.8" fill="#0a3d82"/>
<circle cx="66.1" cy="560.5" r="1.8" fill="#0a3d82"/>
<circle cx="79.4" cy="554.3" r="2.7" fill="#0f93ff"/>
<circle cx="23.0" cy="564.9" r="1.8" fill="#0a3d82"/>
<circle cx="108.6" cy="568.1" r="2.7" fill="#1ccfdc"/>
<circle cx="74.9" cy="603.2" r="1.8" fill="#0a3d82"/>
<circle cx="56.3" cy="622.9" r="3.5" fill="#1ccfdc"/>
<circle cx="99.0" cy="639.2" r="2.5" fill="#0f93ff"/>
<circle cx="151.6" cy="516.6" r="2.5" fill="#0a3d82"/>
<circle cx="185.9" cy="507.0" r="2.7" fill="#0f93ff"/>
<circle cx="189.0" cy="545.0" r="2.7" fill="#0f93ff"/>
<circle cx="152.8" cy="576.3" r="3.5" fill="#1ccfdc"/>
<circle cx="180.0" cy="606.5" r="1.8" fill="#0a3d82"/>
<circle cx="201.5" cy="609.0" r="1.8" fill="#0f93ff"/>
<circle cx="212.5" cy="310.2" r="1.5" fill="#0a3d82"/>
<circle cx="214.4" cy="324.7" r="1.8" fill="#0a3d82"/>
<circle cx="193.6" cy="327.4" r="1.8" fill="#0a3d82"/>
<circle cx="177.0" cy="335.4" r="2.7" fill="#0f93ff"/>
<circle cx="153.1" cy="344.6" r="1.8" fill="#0a3d82"/>
<circle cx="213.4" cy="337.5" r="1.8" fill="#0a3d82"/>
<circle cx="232.4" cy="352.5" r="2.5" fill="#0a3d82"/>
<circle cx="191.1" cy="354.0" r="2.7" fill="#0a3d82"/>
<circle cx="159.0" cy="361.3" r="1.8" fill="#0a3d82"/>
<circle cx="178.7" cy="362.1" r="1.8" fill="#0a3d82"/>
<circle cx="140.2" cy="373.3" r="1.8" fill="#0a3d82"/>
<circle cx="174.7" cy="375.2" r="1.8" fill="#0a3d82"/>
<circle cx="230.5" cy="372.9" r="1.8" fill="#0a3d82"/>
<circle cx="206.1" cy="384.4" r="1.8" fill="#0a3d82"/>
<circle cx="232.9" cy="385.8" r="1.8" fill="#0a3d82"/>
<circle cx="188.6" cy="392.5" r="2.0" fill="#0f93ff"/>
<circle cx="199.8" cy="393.6" r="1.8" fill="#0a3d82"/>
<circle cx="169.6" cy="396.0" r="2.7" fill="#0f93ff"/>
<circle cx="249.9" cy="406.8" r="1.8" fill="#0a3d82"/>
<circle cx="160.8" cy="413.4" r="1.8" fill="#0a3d82"/>
<circle cx="182.9" cy="418.6" r="2.7" fill="#0f93ff"/>
<circle cx="208.5" cy="417.4" r="2.7" fill="#0f93ff"/>
<circle cx="222.0" cy="417.4" r="2.7" fill="#0f93ff"/>
<circle cx="238.9" cy="423.8" r="2.0" fill="#0f93ff"/>
<circle cx="166.8" cy="432.6" r="1.8" fill="#0a3d82"/>
<circle cx="192.0" cy="430.3" r="3.5" fill="#0f93ff"/>
<circle cx="221.9" cy="431.6" r="2.7" fill="#0f93ff"/>
<circle cx="197.8" cy="441.2" r="2.7" fill="#0f93ff"/>
<circle cx="246.5" cy="443.1" r="2.7" fill="#0f93ff"/>
<circle cx="144.2" cy="445.1" r="2.7" fill="#0a3d82"/>
<circle cx="225.3" cy="450.9" r="2.0" fill="#0f93ff"/>
<circle cx="154.8" cy="454.1" r="1.8" fill="#0a3d82"/>
<circle cx="178.5" cy="459.5" r="2.7" fill="#0f93ff"/>
<circle cx="187.0" cy="462.9" r="1.8" fill="#0a3d82"/>
<circle cx="212.4" cy="468.1" r="1.8" fill="#0a3d82"/>
<circle cx="266.5" cy="470.7" r="1.8" fill="#0a3d82"/>
<circle cx="159.6" cy="466.8" r="1.8" fill="#0a3d82"/>
<circle cx="231.9" cy="474.6" r="1.8" fill="#0a3d82"/>
<circle cx="178.8" cy="478.7" r="1.8" fill="#0a3d82"/>
<circle cx="150.3" cy="485.1" r="1.8" fill="#0a3d82"/>
<circle cx="185.0" cy="488.8" r="1.8" fill="#0a3d82"/>
<circle cx="245.8" cy="482.4" r="1.8" fill="#0a3d82"/>
<circle cx="207.0" cy="492.1" r="1.8" fill="#0a3d82"/>
<circle cx="215.7" cy="498.1" r="1.8" fill="#0a3d82"/>
<circle cx="202.8" cy="501.0" r="2.7" fill="#0f93ff"/>
<circle cx="175.7" cy="503.0" r="1.8" fill="#0a3d82"/>
<circle cx="390.6" cy="315.8" r="3.3" fill="#0f93ff"/>
<circle cx="312.2" cy="358.1" r="2.5" fill="#0f93ff"/>
<circle cx="357.4" cy="390.2" r="3.3" fill="#ffa500"/>
<circle cx="385.4" cy="393.8" r="4.4" fill="#1ccfdc"/>
<circle cx="314.9" cy="413.6" r="3.3" fill="#ffee00"/>
<circle cx="336.2" cy="426.5" r="4.2" fill="#ffaaaa"/>
<circle cx="382.3" cy="417.0" r="4.2" fill="#a6f6ff"/>
<circle cx="356.2" cy="433.5" r="4.4" fill="#1ccfdc"/>
<circle cx="358.4" cy="448.6" r="3.5" fill="#a6f6ff"/>
<circle cx="390.6" cy="461.4" r="4.3" fill="#f50000"/>
<circle cx="401.1" cy="466.2" r="4.4" fill="#ffee00"/>
<circle cx="277.5" cy="493.7" r="5.0" fill="#f50000"/>
<circle cx="308.7" cy="490.4" r="4.3" fill="#ffee00"/>
<circle cx="321.2" cy="511.7" r="5.0" fill="#8c0000"/>
<circle cx="403.7" cy="505.2" r="4.2" fill="#f50000"/>
<circle cx="351.1" cy="529.2" r="4.2" fill="#f50000"/>
<circle cx="391.8" cy="541.7" r="5.2" fill="#ffee00"/>
<circle cx="366.1" cy="544.7" r="4.2" fill="#f50000"/>
<circle cx="303.7" cy="555.1" r="5.2" fill="#1ccfdc"/>
<circle cx="336.1" cy="560.5" r="5.2" fill="#1ccfdc"/>
<circle cx="349.4" cy="554.3" r="5.0" fill="#f50000"/>
<circle cx="293.0" cy="564.9" r="4.2" fill="#f50000"/>
<circle cx="378.6" cy="568.1" r="5.0" fill="#8c0000"/>
<circle cx="344.9" cy="603.2" r="3.3" fill="#ffee00"/>
<circle cx="326.3" cy="622.9" r="5.0" fill="#f50000"/>
<circle cx="369.0" cy="639.2" r="5.0" fill="#8c0000"/>
<circle cx="421.6" cy="516.6" r="4.0" fill="#ffa500"/>
<circle cx="455.9" cy="507.0" r="4.2" fill="#ffaaaa"/>
<circle cx="459.0" cy="545.0" r="4.8" fill="#a6f6ff"/>
<circle cx="422.8" cy="576.3" r="5.2" fill="#ffee00"/>
<circle cx="450.0" cy="606.5" r="4.2" fill="#8c0000"/>
<circle cx="471.5" cy="609.0" r="5.0" fill="#f50000"/>
<circle cx="482.5" cy="310.2" r="1.5" fill="#0a3d82"/>
<circle cx="484.4" cy="324.7" r="3.5" fill="#0f93ff"/>
<circle cx="463.6" cy="327.4" r="3.5" fill="#1ccfdc"/>
<circle cx="447.0" cy="335.4" r="3.5" fill="#1ccfdc"/>
<circle cx="423.1" cy="344.6" r="2.6" fill="#0f93ff"/>
<circle cx="483.4" cy="337.5" r="2.8" fill="#1ccfdc"/>
<circle cx="502.4" cy="352.5" r="4.3" fill="#1ccfdc"/>
<circle cx="461.1" cy="354.0" r="4.3" fill="#a6f6ff"/>
<circle cx="429.0" cy="361.3" r="3.7" fill="#1ccfdc"/>
<circle cx="448.7" cy="362.1" r="2.8" fill="#ffee00"/>
<circle cx="410.2" cy="373.3" r="3.3" fill="#ffa500"/>
<circle cx="444.7" cy="375.2" r="3.5" fill="#ffa500"/>
<circle cx="500.5" cy="372.9" r="4.3" fill="#f50000"/>
<circle cx="476.1" cy="384.4" r="4.0" fill="#f50000"/>
<circle cx="502.9" cy="385.8" r="3.5" fill="#ffa500"/>
<circle cx="458.6" cy="392.5" r="4.3" fill="#ffa500"/>
<circle cx="469.8" cy="393.6" r="5.0" fill="#ffa500"/>
<circle cx="439.6" cy="396.0" r="4.0" fill="#a6f6ff"/>
<circle cx="519.9" cy="406.8" r="3.3" fill="#ffa500"/>
<circle cx="430.8" cy="413.4" r="3.3" fill="#ffa500"/>
<circle cx="452.9" cy="418.6" r="4.2" fill="#f50000"/>
<circle cx="478.5" cy="417.4" r="5.0" fill="#8c0000"/>
<circle cx="492.0" cy="417.4" r="5.0" fill="#8c0000"/>
<circle cx="508.9" cy="423.8" r="4.2" fill="#ffaaaa"/>
<circle cx="436.8" cy="432.6" r="5.2" fill="#f50000"/>
<circle cx="462.0" cy="430.3" r="3.7" fill="#1ccfdc"/>
<circle cx="491.9" cy="431.6" r="3.3" fill="#f50000"/>
<circle cx="467.8" cy="441.2" r="4.2" fill="#a6f6ff"/>
<circle cx="516.5" cy="443.1" r="4.3" fill="#f50000"/>
<circle cx="414.2" cy="445.1" r="4.4" fill="#1ccfdc"/>
<circle cx="495.3" cy="450.9" r="3.5" fill="#f50000"/>
<circle cx="424.8" cy="454.1" r="3.5" fill="#a6f6ff"/>
<circle cx="448.5" cy="459.5" r="4.3" fill="#ffa500"/>
<circle cx="457.0" cy="462.9" r="3.5" fill="#ffa500"/>
<circle cx="482.4" cy="468.1" r="4.3" fill="#ffa500"/>
<circle cx="536.5" cy="470.7" r="4.3" fill="#ffa500"/>
<circle cx="429.6" cy="466.8" r="4.3" fill="#f50000"/>
<circle cx="501.9" cy="474.6" r="4.3" fill="#f50000"/>
<circle cx="448.8" cy="478.7" r="4.2" fill="#ffaaaa"/>
<circle cx="420.3" cy="485.1" r="4.6" fill="#ffee00"/>
<circle cx="455.0" cy="488.8" r="3.5" fill="#ffee00"/>
<circle cx="515.8" cy="482.4" r="3.5" fill="#ffee00"/>
<circle cx="477.0" cy="492.1" r="3.7" fill="#1ccfdc"/>
<circle cx="485.7" cy="498.1" r="3.5" fill="#a6f6ff"/>
<circle cx="472.8" cy="501.0" r="4.3" fill="#f50000"/>
<circle cx="445.7" cy="503.0" r="3.7" fill="#a6f6ff"/>
<use href="#mline"/><use href="#mline" x="270"/>
<text x="4" y="679.6" font-size="10.5" fill="#1a1a1a">STT 1994-2009 (°C min)</text>
<circle cx="9.3" cy="688.2" r="4.6" fill="#0a3d82"/>
<text x="19.8" y="691.5" font-size="10.5" fill="#1a1a1a">&lt; 50</text>
<circle cx="9.3" cy="699.6" r="4.6" fill="#0f93ff"/>
<text x="19.8" y="702.9" font-size="10.5" fill="#1a1a1a">50 - 150</text>
<circle cx="82.4" cy="688.2" r="4.6" fill="#1ccfdc"/>
<text x="92.4" y="691.5" font-size="10.5" fill="#1a1a1a">150 - 400</text>
<circle cx="82.4" cy="699.6" r="4.6" fill="#a6f6ff"/>
<text x="92.2" y="702.9" font-size="10.5" fill="#1a1a1a">400 - 700</text>
<circle cx="160.5" cy="688.2" r="4.6" fill="#ffa500"/>
<text x="176.0" y="691.5" font-size="10.5" fill="#1a1a1a">700 - 1000</text>
<circle cx="160.5" cy="699.6" r="4.6" fill="#ffee00"/>
<text x="171.4" y="702.9" font-size="10.5" fill="#1a1a1a">1000 - 1300</text>
<circle cx="251.6" cy="688.2" r="4.6" fill="#ffaaaa"/>
<text x="261.2" y="691.5" font-size="10.5" fill="#1a1a1a">1300 - 1600</text>
<circle cx="251.6" cy="699.6" r="4.6" fill="#ff0000"/>
<text x="261.2" y="702.9" font-size="10.5" fill="#1a1a1a">1600 - 2000</text>
<circle cx="343.0" cy="688.2" r="4.6" fill="#e80000"/>
<text x="351.8" y="691.5" font-size="10.5" fill="#1a1a1a">2000 - 3000</text>
<circle cx="343.0" cy="699.6" r="4.6" fill="#8c0000"/>
<text x="351.8" y="702.9" font-size="10.5" fill="#1a1a1a">&gt; 3000</text>
<text x="4" y="720.5" font-size="10.5" fill="#1a1a1a">Years with STT &gt; 0</text>
<circle cx="10" cy="728.8" r="1.5" fill="#fff" stroke="#222" stroke-width="0.85"/>
<text x="16.2" y="732.2" font-size="10.5" fill="#1a1a1a">0 - 3</text>
<circle cx="63.6" cy="728.8" r="2.3" fill="#fff" stroke="#222" stroke-width="0.85"/>
<text x="69.9" y="732.2" font-size="10.5" fill="#1a1a1a">4 - 6</text>
<circle cx="120" cy="728.8" r="3.1" fill="#fff" stroke="#222" stroke-width="0.85"/>
<text x="128" y="732.2" font-size="10.5" fill="#1a1a1a">7 - 10</text>
<circle cx="181.2" cy="728.8" r="3.9" fill="#fff" stroke="#222" stroke-width="0.85"/>
<text x="190" y="732.2" font-size="10.5" fill="#1a1a1a">11 - 13</text>
<circle cx="251.6" cy="728.8" r="4.6" fill="#fff" stroke="#222" stroke-width="0.85"/>
<text x="262" y="732.2" font-size="10.5" fill="#1a1a1a">14 - 16</text>
<rect x="449.5" y="679.5" width="21.8" height="10.6" fill="#fff" stroke="#e8e8e8" stroke-width="1"/>
<rect x="449.3" y="693.3" width="21.8" height="10.5" fill="#dadada"/>
<text x="480" y="688.2" font-size="10.5" fill="#1a1a1a">Federal state</text>
<text x="480" y="702.4" font-size="10.5" fill="#1a1a1a">Cropland</text>
<text x="480.3" y="722.6" font-size="10.5" fill="#1a1a1a">Kilometers</text>
<text x="377.0" y="722.6" font-size="10.5" fill="#1a1a1a" text-anchor="middle">0</text>
<text x="398.8" y="722.6" font-size="10.5" fill="#1a1a1a" text-anchor="middle">50</text>
<text x="420.6" y="722.6" font-size="10.5" fill="#1a1a1a" text-anchor="middle">100</text>
<text x="442.5" y="722.6" font-size="10.5" fill="#1a1a1a" text-anchor="middle">150</text>
<text x="464.3" y="722.6" font-size="10.5" fill="#1a1a1a" text-anchor="middle">200</text>
<rect x="377.00" y="726.2" width="21.82" height="3.6" fill="#000"/>
<rect x="377.00" y="729.8" width="21.82" height="4.2" fill="#fff"/>
<rect x="398.82" y="726.2" width="21.82" height="3.6" fill="#fff"/>
<rect x="398.82" y="729.8" width="21.82" height="4.2" fill="#000"/>
<rect x="420.64" y="726.2" width="21.82" height="3.6" fill="#000"/>
<rect x="420.64" y="729.8" width="21.82" height="4.2" fill="#fff"/>
<rect x="442.46" y="726.2" width="21.82" height="3.6" fill="#fff"/>
<rect x="442.46" y="729.8" width="21.82" height="4.2" fill="#000"/>
<rect x="377" y="726.2" width="87.3" height="7.8" fill="none" stroke="#999" stroke-width="0.6"/>
</svg></body></html>
